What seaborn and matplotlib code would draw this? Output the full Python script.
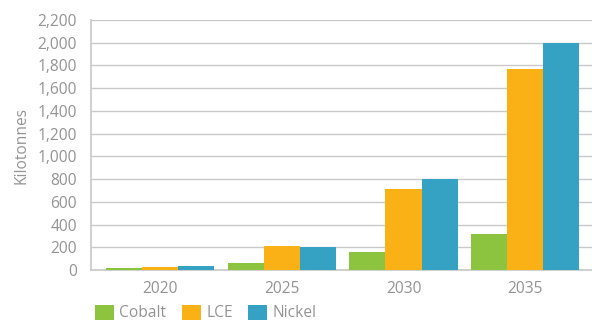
import matplotlib
matplotlib.use("Agg")
import matplotlib.pyplot as plt
import seaborn as sns
import pandas as pd

years = ["2020", "2025", "2030", "2035"]
cobalt = [15, 60, 158, 314]
lce = [30, 214, 713, 1766]
nickel = [35, 205, 798, 2000]
series_names = ["Cobalt", "LCE", "Nickel"]
yticks = [0, 200, 400, 600, 800, 1000, 1200, 1400, 1600, 1800, 2000, 2200]

rows = []
for name, vals in zip(series_names, [cobalt, lce, nickel]):
    for y, v in zip(years, vals):
        rows.append({"Year": y, "Metal": name, "Value": v})
df = pd.DataFrame(rows)

sns.set_theme(style="white")
plt.rcParams["font.family"] = ["Open Sans", "DejaVu Sans"]

palette = {"Cobalt": "#8CC43F", "LCE": "#F9B116", "Nickel": "#35A2C4"}
text_c = "#939393"
grid_c = "#C9C9C9"
fs = 11.2

fig = plt.figure(figsize=(5.92, 3.27), dpi=100)
ax = fig.add_axes([91 / 592, 1 - 270 / 327, 1 - 91 / 592, 250 / 327])

sns.barplot(data=df, x="Year", y="Value", hue="Metal", order=years,
            hue_order=series_names, palette=palette, width=0.89,
            saturation=1, ax=ax, legend=False, zorder=3, linewidth=0,
            edgecolor="none")

ax.set_ylim(0, 2200)
ax.set_yticks(yticks)
ax.set_yticklabels([f"{t:,}" for t in yticks])
ax.yaxis.grid(True, color=grid_c, linewidth=1.0, zorder=0)
ax.set_axisbelow(True)
for s in ["top", "right"]:
    ax.spines[s].set_visible(False)
ax.spines["left"].set_color(grid_c)
ax.spines["bottom"].set_color(grid_c)
ax.tick_params(axis="both", length=0, colors=text_c, labelsize=fs)
ax.tick_params(axis="y", pad=10)
ax.tick_params(axis="x", pad=8)
ax.set_xlabel("")
ax.set_ylabel("Kilotonnes", color=text_c, fontsize=fs, labelpad=6)
ax.set_xlim(-0.57, 3.55)

from matplotlib.patches import Patch
handles = [Patch(facecolor=palette[n], edgecolor="none") for n in series_names]
leg = fig.legend(handles, series_names, loc="center left",
                 bbox_to_anchor=(89 / 592, 1 - 313 / 327), ncol=3, frameon=False,
                 fontsize=fs, handlelength=1.2, handleheight=1.15,
                 handletextpad=0.35, columnspacing=1.0, borderaxespad=0)
for t in leg.get_texts():
    t.set_color(text_c)

fig.savefig("out.png", dpi=100)
